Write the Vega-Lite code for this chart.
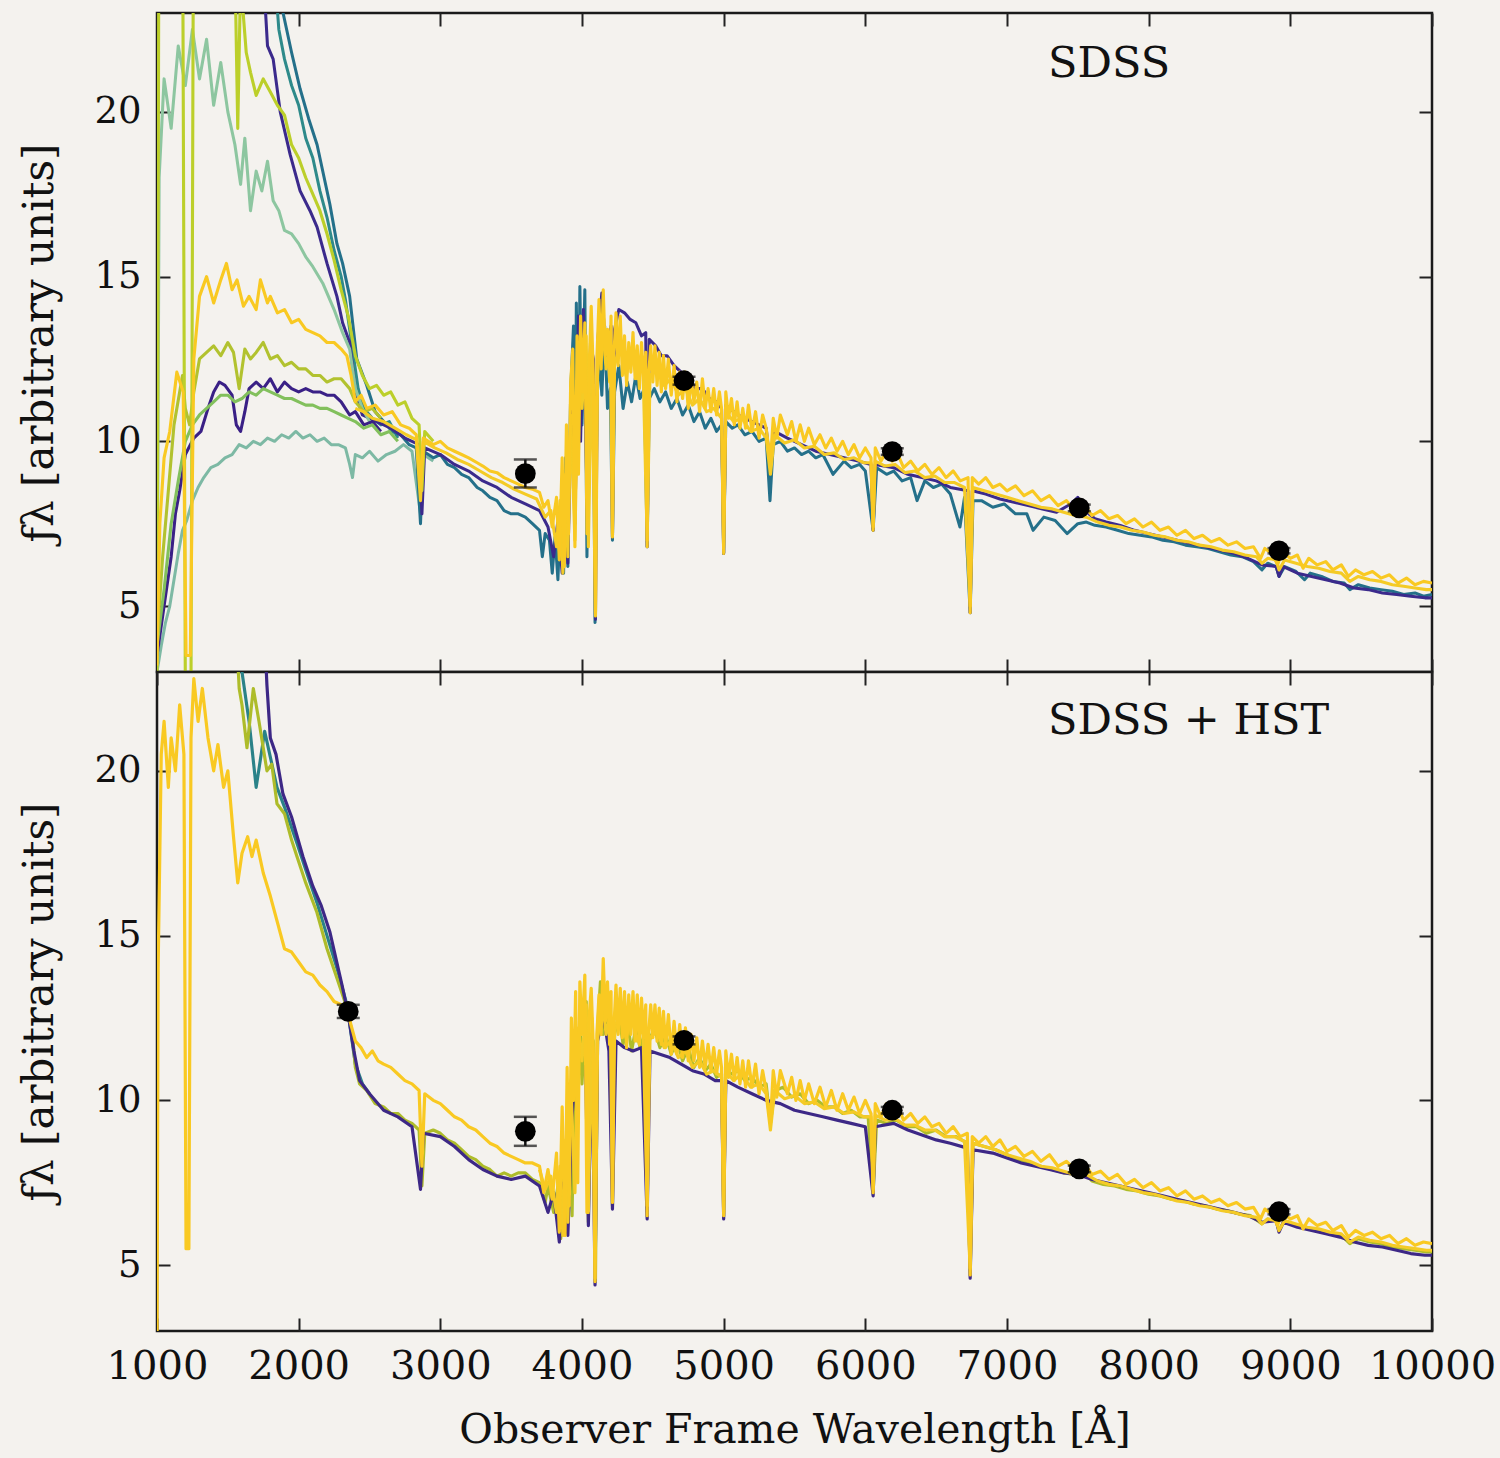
{
"$schema": "https://vega.github.io/schema/vega-lite/v6.json",
"background": "#f4f2ee",
"padding": {"left": 17, "top": 10, "right": 5, "bottom": 6},
"config": {
 "view": {"stroke": "#1a1a1a", "strokeWidth": 2.5, "fill": "#f4f2ee"},
 "font": "DejaVu Serif",
 "axis": {"labelFont": "DejaVu Serif", "titleFont": "DejaVu Serif", "labelColor": "#111", "titleColor": "#111", "tickColor": "#222", "tickWidth": 2, "tickSize": -13, "domain": false, "grid": false, "titleFontWeight": "normal", "labelFontWeight": "normal", "labelFlush": false, "labelOverlap": false}
},
"datasets": {
 "pt": [
  {"w":3600,"f":9.02,"lo":8.6,"hi":9.45},
  {"w":4720,"f":11.84,"lo":11.72,"hi":11.96},
  {"w":6190,"f":9.69,"lo":9.59,"hi":9.79},
  {"w":7510,"f":7.98,"lo":7.88,"hi":8.08},
  {"w":8920,"f":6.68,"lo":6.6,"hi":6.76}
 ],
 "pb": [
  {"w":2350,"f":12.7,"lo":12.5,"hi":12.9},
  {"w":3600,"f":9.06,"lo":8.62,"hi":9.5},
  {"w":4720,"f":11.82,"lo":11.7,"hi":11.94},
  {"w":6190,"f":9.7,"lo":9.6,"hi":9.8},
  {"w":7510,"f":7.92,"lo":7.82,"hi":8.02},
  {"w":8920,"f":6.62,"lo":6.54,"hi":6.7}
 ],
 "lt": [{"w":7290,"f":21.45,"t":"SDSS"}],
 "lb": [{"w":7290,"f":21.5,"t":"SDSS + HST"}],
 "st": [
  {"s":"a","w":1000,"f":3.0},{"s":"a","w":1030,"f":3.8},{"s":"a","w":1060,"f":4.5},{"s":"a","w":1090,"f":5.0},{"s":"a","w":1120,"f":5.8},{"s":"a","w":1150,"f":6.6},{"s":"a","w":1180,"f":7.3},{"s":"a","w":1210,"f":7.6},{"s":"a","w":1250,"f":8.2},{"s":"a","w":1290,"f":8.6},{"s":"a","w":1330,"f":8.9},{"s":"a","w":1380,"f":9.2},{"s":"a","w":1430,"f":9.3},{"s":"a","w":1480,"f":9.5},{"s":"a","w":1530,"f":9.6},{"s":"a","w":1580,"f":9.9},{"s":"a","w":1630,"f":9.8},{"s":"a","w":1680,"f":10.0},{"s":"a","w":1730,"f":9.9},{"s":"a","w":1780,"f":10.1},{"s":"a","w":1830,"f":10.0},{"s":"a","w":1880,"f":10.2},{"s":"a","w":1930,"f":10.1},{"s":"a","w":1980,"f":10.3},{"s":"a","w":2030,"f":10.1},{"s":"a","w":2080,"f":10.2},{"s":"a","w":2130,"f":10.0},{"s":"a","w":2180,"f":10.1},{"s":"a","w":2230,"f":9.9},{"s":"a","w":2280,"f":9.9},{"s":"a","w":2330,"f":9.8},{"s":"a","w":2360,"f":9.3},{"s":"a","w":2380,"f":8.9},{"s":"a","w":2400,"f":9.6},{"s":"a","w":2450,"f":9.5},{"s":"a","w":2500,"f":9.7},{"s":"a","w":2560,"f":9.4},{"s":"a","w":2620,"f":9.6},{"s":"a","w":2680,"f":9.7},{"s":"a","w":2740,"f":9.9},{"s":"a","w":2800,"f":9.7},{"s":"a","w":2860,"f":7.8},{"s":"a","w":2880,"f":9.6},{"s":"a","w":2950,"f":9.4},
  {"s":"b","w":1800,"f":26},{"s":"b","w":1860,"f":22.5},{"s":"b","w":1900,"f":21.6},{"s":"b","w":1950,"f":20.8},{"s":"b","w":2000,"f":20.2},{"s":"b","w":2050,"f":19.2},{"s":"b","w":2100,"f":18.6},{"s":"b","w":2150,"f":17.6},{"s":"b","w":2200,"f":16.8},{"s":"b","w":2250,"f":15.8},{"s":"b","w":2300,"f":15.0},{"s":"b","w":2330,"f":14.3},{"s":"b","w":2380,"f":12.8},{"s":"b","w":2420,"f":11.6},{"s":"b","w":2460,"f":11.0},{"s":"b","w":2520,"f":10.7},{"s":"b","w":2580,"f":10.5},{"s":"b","w":2640,"f":10.6},{"s":"b","w":2700,"f":10.1},
  {"s":"c","w":1850,"f":26},{"s":"c","w":1890,"f":23.0},{"s":"c","w":1950,"f":21.8},{"s":"c","w":2010,"f":20.7},{"s":"c","w":2070,"f":19.8},{"s":"c","w":2130,"f":19.0},{"s":"c","w":2180,"f":18.0},{"s":"c","w":2220,"f":17.2},{"s":"c","w":2270,"f":16.0},{"s":"c","w":2310,"f":15.4},{"s":"c","w":2360,"f":14.4},{"s":"c","w":2410,"f":12.5},{"s":"c","w":2480,"f":11.7},{"s":"c","w":2540,"f":10.9},{"s":"c","w":2600,"f":10.6},{"s":"c","w":2660,"f":10.3},{"s":"c","w":2720,"f":10.2},{"s":"c","w":2780,"f":9.9},{"s":"c","w":2830,"f":9.8},{"s":"c","w":2860,"f":7.5},{"s":"c","w":2880,"f":9.7},{"s":"c","w":2950,"f":9.5},{"s":"c","w":3000,"f":9.6},{"s":"c","w":3050,"f":9.3},{"s":"c","w":3100,"f":9.2},{"s":"c","w":3150,"f":9.0},{"s":"c","w":3200,"f":8.9},{"s":"c","w":3260,"f":8.6},{"s":"c","w":3300,"f":8.5},{"s":"c","w":3350,"f":8.3},{"s":"c","w":3400,"f":8.2},{"s":"c","w":3450,"f":7.9},{"s":"c","w":3500,"f":7.8},{"s":"c","w":3550,"f":7.8},{"s":"c","w":3600,"f":7.7},{"s":"c","w":3650,"f":7.5},{"s":"c","w":3700,"f":7.3},{"s":"c","w":3720,"f":6.5},{"s":"c","w":3740,"f":7.2},{"s":"c","w":3770,"f":7.0},{"s":"c","w":3790,"f":6.0},{"s":"c","w":3810,"f":7.1},{"s":"c","w":3830,"f":5.8},{"s":"c","w":3850,"f":8.0},{"s":"c","w":3870,"f":6.0},{"s":"c","w":3885,"f":9.5},{"s":"c","w":3900,"f":6.2},{"s":"c","w":3920,"f":11.5},{"s":"c","w":3940,"f":13.5},{"s":"c","w":3950,"f":8.0},{"s":"c","w":3960,"f":14.2},{"s":"c","w":3975,"f":9.5},{"s":"c","w":3985,"f":14.7},{"s":"c","w":4000,"f":10.5},{"s":"c","w":4020,"f":14.6},{"s":"c","w":4035,"f":6.5},{"s":"c","w":4050,"f":12.0},{"s":"c","w":4065,"f":11.0},{"s":"c","w":4080,"f":11.5},{"s":"c","w":4092,"f":4.5},{"s":"c","w":4105,"f":11.0},{"s":"c","w":4120,"f":12.8},{"s":"c","w":4140,"f":11.4},{"s":"c","w":4160,"f":13.5},{"s":"c","w":4180,"f":11.0},{"s":"c","w":4200,"f":11.6},{"s":"c","w":4215,"f":7.0},{"s":"c","w":4230,"f":11.5},{"s":"c","w":4260,"f":12.3},{"s":"c","w":4290,"f":11.0},{"s":"c","w":4320,"f":11.8},{"s":"c","w":4350,"f":11.2},{"s":"c","w":4380,"f":12.0},{"s":"c","w":4410,"f":11.3},{"s":"c","w":4440,"f":11.6},{"s":"c","w":4460,"f":6.8},{"s":"c","w":4475,"f":11.3},{"s":"c","w":4510,"f":11.6},{"s":"c","w":4550,"f":11.2},{"s":"c","w":4590,"f":11.5},{"s":"c","w":4630,"f":11.0},{"s":"c","w":4670,"f":11.3},{"s":"c","w":4710,"f":10.8},{"s":"c","w":4750,"f":11.1},{"s":"c","w":4790,"f":10.6},{"s":"c","w":4830,"f":10.9},{"s":"c","w":4870,"f":10.4},{"s":"c","w":4910,"f":10.7},{"s":"c","w":4950,"f":10.3},{"s":"c","w":4985,"f":10.5},{"s":"c","w":5000,"f":6.6},{"s":"c","w":5015,"f":10.6},{"s":"c","w":5060,"f":10.4},{"s":"c","w":5100,"f":10.5},{"s":"c","w":5150,"f":10.2},{"s":"c","w":5200,"f":10.3},{"s":"c","w":5250,"f":10.0},{"s":"c","w":5300,"f":10.1},{"s":"c","w":5327,"f":8.2},{"s":"c","w":5350,"f":9.9},{"s":"c","w":5400,"f":10.0},{"s":"c","w":5450,"f":9.7},{"s":"c","w":5500,"f":9.8},{"s":"c","w":5550,"f":9.6},{"s":"c","w":5600,"f":9.7},{"s":"c","w":5650,"f":9.5},{"s":"c","w":5700,"f":9.6},{"s":"c","w":5772,"f":9.0},{"s":"c","w":5850,"f":9.4},{"s":"c","w":5900,"f":9.2},{"s":"c","w":5960,"f":9.3},{"s":"c","w":6000,"f":9.1},{"s":"c","w":6055,"f":7.3},{"s":"c","w":6080,"f":9.2},{"s":"c","w":6150,"f":9.0},{"s":"c","w":6200,"f":9.1},{"s":"c","w":6260,"f":8.8},{"s":"c","w":6320,"f":8.9},{"s":"c","w":6365,"f":8.2},{"s":"c","w":6420,"f":8.8},{"s":"c","w":6480,"f":8.6},{"s":"c","w":6540,"f":8.7},{"s":"c","w":6600,"f":8.4},{"s":"c","w":6668,"f":7.4},{"s":"c","w":6700,"f":8.3},{"s":"c","w":6740,"f":4.8},{"s":"c","w":6760,"f":8.2},{"s":"c","w":6820,"f":8.2},{"s":"c","w":6900,"f":8.0},{"s":"c","w":6980,"f":8.1},{"s":"c","w":7060,"f":7.8},{"s":"c","w":7140,"f":7.8},{"s":"c","w":7184,"f":7.3},{"s":"c","w":7260,"f":7.7},{"s":"c","w":7340,"f":7.6},{"s":"c","w":7424,"f":7.2},{"s":"c","w":7500,"f":7.5},{"s":"c","w":7560,"f":7.55},{"s":"c","w":7620,"f":7.45},{"s":"c","w":7700,"f":7.4},{"s":"c","w":7780,"f":7.3},{"s":"c","w":7860,"f":7.2},{"s":"c","w":7940,"f":7.15},{"s":"c","w":8020,"f":7.1},{"s":"c","w":8100,"f":7.0},{"s":"c","w":8180,"f":6.95},{"s":"c","w":8260,"f":6.85},{"s":"c","w":8340,"f":6.8},{"s":"c","w":8420,"f":6.75},{"s":"c","w":8500,"f":6.65},{"s":"c","w":8580,"f":6.55},{"s":"c","w":8660,"f":6.5},{"s":"c","w":8740,"f":6.35},{"s":"c","w":8800,"f":6.1},{"s":"c","w":8840,"f":6.3},{"s":"c","w":8900,"f":6.2},{"s":"c","w":8920,"f":5.9},{"s":"c","w":8960,"f":6.2},{"s":"c","w":9040,"f":6.05},{"s":"c","w":9100,"f":5.8},{"s":"c","w":9140,"f":6.0},{"s":"c","w":9220,"f":5.9},{"s":"c","w":9300,"f":5.75},{"s":"c","w":9380,"f":5.7},{"s":"c","w":9420,"f":5.5},{"s":"c","w":9480,"f":5.65},{"s":"c","w":9560,"f":5.55},{"s":"c","w":9640,"f":5.5},{"s":"c","w":9720,"f":5.45},{"s":"c","w":9800,"f":5.35},{"s":"c","w":9880,"f":5.4},{"s":"c","w":9940,"f":5.3},{"s":"c","w":10000,"f":5.35},
  {"s":"d","w":1700,"f":26},{"s":"d","w":1760,"f":23.5},{"s":"d","w":1780,"f":22.0},{"s":"d","w":1820,"f":21.6},{"s":"d","w":1870,"f":20.0},{"s":"d","w":1940,"f":18.7},{"s":"d","w":2010,"f":17.6},{"s":"d","w":2080,"f":17.0},{"s":"d","w":2130,"f":16.5},{"s":"d","w":2200,"f":15.4},{"s":"d","w":2270,"f":14.4},{"s":"d","w":2310,"f":13.6},{"s":"d","w":2360,"f":13.0},{"s":"d","w":2400,"f":11.5},{"s":"d","w":2450,"f":10.8},{"s":"d","w":2550,"f":10.6},{"s":"d","w":2650,"f":10.4},{"s":"d","w":2750,"f":10.1},{"s":"d","w":2850,"f":9.9},{"s":"d","w":2870,"f":7.8},{"s":"d","w":2890,"f":9.8},{"s":"d","w":3000,"f":9.6},{"s":"d","w":3100,"f":9.3},{"s":"d","w":3200,"f":9.1},{"s":"d","w":3300,"f":8.8},{"s":"d","w":3400,"f":8.6},{"s":"d","w":3500,"f":8.3},{"s":"d","w":3600,"f":8.1},{"s":"d","w":3700,"f":7.9},{"s":"d","w":3760,"f":7.4},{"s":"d","w":3800,"f":6.5},{"s":"d","w":3830,"f":7.6},{"s":"d","w":3860,"f":6.0},{"s":"d","w":3880,"f":8.5},{"s":"d","w":3900,"f":6.3},{"s":"d","w":3930,"f":12.0},{"s":"d","w":3950,"f":7.5},{"s":"d","w":3975,"f":13.8},{"s":"d","w":3990,"f":10.0},{"s":"d","w":4010,"f":14.0},{"s":"d","w":4040,"f":7.2},{"s":"d","w":4060,"f":13.0},{"s":"d","w":4080,"f":12.5},{"s":"d","w":4095,"f":4.6},{"s":"d","w":4110,"f":13.0},{"s":"d","w":4140,"f":14.5},{"s":"d","w":4170,"f":12.6},{"s":"d","w":4205,"f":13.5},{"s":"d","w":4215,"f":7.1},{"s":"d","w":4230,"f":13.4},{"s":"d","w":4260,"f":14.0},{"s":"d","w":4300,"f":13.9},{"s":"d","w":4340,"f":13.7},{"s":"d","w":4380,"f":13.6},{"s":"d","w":4420,"f":13.2},{"s":"d","w":4450,"f":13.3},{"s":"d","w":4460,"f":6.8},{"s":"d","w":4475,"f":13.1},{"s":"d","w":4520,"f":12.9},{"s":"d","w":4560,"f":12.6},{"s":"d","w":4600,"f":12.6},{"s":"d","w":4650,"f":12.3},{"s":"d","w":4700,"f":12.1},{"s":"d","w":4750,"f":12.0},{"s":"d","w":4800,"f":11.6},{"s":"d","w":4850,"f":11.6},{"s":"d","w":4900,"f":11.3},{"s":"d","w":4950,"f":11.2},{"s":"d","w":4985,"f":11.0},{"s":"d","w":5000,"f":6.6},{"s":"d","w":5015,"f":11.1},{"s":"d","w":5100,"f":10.8},{"s":"d","w":5200,"f":10.6},{"s":"d","w":5300,"f":10.4},{"s":"d","w":5330,"f":9.2},{"s":"d","w":5360,"f":10.3},{"s":"d","w":5450,"f":10.1},{"s":"d","w":5550,"f":9.9},{"s":"d","w":5650,"f":9.7},{"s":"d","w":5750,"f":9.6},{"s":"d","w":5850,"f":9.5},{"s":"d","w":5950,"f":9.4},{"s":"d","w":6040,"f":9.3},{"s":"d","w":6055,"f":7.3},{"s":"d","w":6070,"f":9.3},{"s":"d","w":6200,"f":9.2},{"s":"d","w":6300,"f":9.0},{"s":"d","w":6400,"f":8.9},{"s":"d","w":6500,"f":8.8},{"s":"d","w":6600,"f":8.6},{"s":"d","w":6725,"f":8.5},{"s":"d","w":6740,"f":4.8},{"s":"d","w":6755,"f":8.5},{"s":"d","w":6850,"f":8.4},{"s":"d","w":6950,"f":8.25},{"s":"d","w":7050,"f":8.15},{"s":"d","w":7150,"f":8.05},{"s":"d","w":7250,"f":7.95},{"s":"d","w":7350,"f":7.85},{"s":"d","w":7450,"f":8.1},{"s":"d","w":7500,"f":8.3},{"s":"d","w":7550,"f":7.9},{"s":"d","w":7620,"f":7.65},{"s":"d","w":7700,"f":7.55},{"s":"d","w":7800,"f":7.45},{"s":"d","w":7900,"f":7.3},{"s":"d","w":8000,"f":7.2},{"s":"d","w":8100,"f":7.1},{"s":"d","w":8200,"f":7.0},{"s":"d","w":8300,"f":6.9},{"s":"d","w":8400,"f":6.8},{"s":"d","w":8500,"f":6.7},{"s":"d","w":8600,"f":6.6},{"s":"d","w":8700,"f":6.45},{"s":"d","w":8800,"f":6.25},{"s":"d","w":8900,"f":6.2},{"s":"d","w":8920,"f":5.9},{"s":"d","w":8950,"f":6.2},{"s":"d","w":9050,"f":6.0},{"s":"d","w":9150,"f":5.9},{"s":"d","w":9250,"f":5.8},{"s":"d","w":9350,"f":5.7},{"s":"d","w":9450,"f":5.55},{"s":"d","w":9550,"f":5.5},{"s":"d","w":9650,"f":5.4},{"s":"d","w":9750,"f":5.35},{"s":"d","w":9850,"f":5.3},{"s":"d","w":9950,"f":5.25},{"s":"d","w":10000,"f":5.25},
  {"s":"e","w":1000,"f":3.0},{"s":"e","w":1015,"f":18.0},{"s":"e","w":1050,"f":21.0},{"s":"e","w":1100,"f":19.5},{"s":"e","w":1150,"f":22.0},{"s":"e","w":1200,"f":20.8},{"s":"e","w":1250,"f":22.5},{"s":"e","w":1300,"f":21.0},{"s":"e","w":1350,"f":22.2},{"s":"e","w":1400,"f":20.2},{"s":"e","w":1450,"f":21.5},{"s":"e","w":1500,"f":20.0},{"s":"e","w":1550,"f":19.0},{"s":"e","w":1590,"f":17.8},{"s":"e","w":1620,"f":19.2},{"s":"e","w":1660,"f":17.0},{"s":"e","w":1700,"f":18.2},{"s":"e","w":1740,"f":17.6},{"s":"e","w":1780,"f":18.5},{"s":"e","w":1820,"f":17.3},{"s":"e","w":1860,"f":17.0},{"s":"e","w":1900,"f":16.4},{"s":"e","w":1950,"f":16.3},{"s":"e","w":2000,"f":16.0},{"s":"e","w":2050,"f":15.6},{"s":"e","w":2100,"f":15.3},{"s":"e","w":2170,"f":14.8},{"s":"e","w":2250,"f":14.0},{"s":"e","w":2310,"f":13.3},{"s":"e","w":2360,"f":12.8},{"s":"e","w":2400,"f":11.6},{"s":"e","w":2450,"f":11.0},{"s":"e","w":2500,"f":10.6},{"s":"e","w":2560,"f":10.4},
  {"s":"f","w":1000,"f":3.5},{"s":"f","w":1050,"f":5.0},{"s":"f","w":1100,"f":6.5},{"s":"f","w":1130,"f":7.8},{"s":"f","w":1160,"f":8.5},{"s":"f","w":1200,"f":9.6},{"s":"f","w":1260,"f":10.1},{"s":"f","w":1310,"f":10.3},{"s":"f","w":1360,"f":11.0},{"s":"f","w":1400,"f":11.5},{"s":"f","w":1440,"f":11.8},{"s":"f","w":1480,"f":11.7},{"s":"f","w":1530,"f":11.4},{"s":"f","w":1560,"f":10.5},{"s":"f","w":1590,"f":10.3},{"s":"f","w":1620,"f":10.9},{"s":"f","w":1650,"f":11.6},{"s":"f","w":1700,"f":11.8},{"s":"f","w":1750,"f":11.6},{"s":"f","w":1800,"f":11.9},{"s":"f","w":1850,"f":11.5},{"s":"f","w":1900,"f":11.8},{"s":"f","w":1950,"f":11.6},{"s":"f","w":2000,"f":11.5},{"s":"f","w":2050,"f":11.6},{"s":"f","w":2100,"f":11.5},{"s":"f","w":2150,"f":11.5},{"s":"f","w":2200,"f":11.4},{"s":"f","w":2250,"f":11.4},{"s":"f","w":2300,"f":11.2},{"s":"f","w":2360,"f":10.8},{"s":"f","w":2400,"f":10.9},{"s":"f","w":2460,"f":10.5},{"s":"f","w":2520,"f":10.6},{"s":"f","w":2580,"f":10.3},
  {"s":"g","w":1000,"f":3.8},{"s":"g","w":1050,"f":5.5},{"s":"g","w":1100,"f":7.5},{"s":"g","w":1150,"f":8.8},{"s":"g","w":1200,"f":10.0},{"s":"g","w":1250,"f":10.5},{"s":"g","w":1300,"f":10.8},{"s":"g","w":1350,"f":11.0},{"s":"g","w":1400,"f":11.2},{"s":"g","w":1450,"f":11.4},{"s":"g","w":1500,"f":11.4},{"s":"g","w":1550,"f":11.2},{"s":"g","w":1600,"f":11.3},{"s":"g","w":1650,"f":11.5},{"s":"g","w":1700,"f":11.4},{"s":"g","w":1750,"f":11.6},{"s":"g","w":1800,"f":11.5},{"s":"g","w":1850,"f":11.4},{"s":"g","w":1900,"f":11.3},{"s":"g","w":1950,"f":11.3},{"s":"g","w":2000,"f":11.2},{"s":"g","w":2050,"f":11.1},{"s":"g","w":2100,"f":11.1},{"s":"g","w":2150,"f":11.0},{"s":"g","w":2200,"f":11.0},{"s":"g","w":2250,"f":10.9},{"s":"g","w":2300,"f":10.8},{"s":"g","w":2350,"f":10.7},{"s":"g","w":2400,"f":10.6},{"s":"g","w":2460,"f":10.4},{"s":"g","w":2520,"f":10.5},{"s":"g","w":2580,"f":10.2},{"s":"g","w":2640,"f":10.3},{"s":"g","w":2700,"f":10.0},
  {"s":"h","w":1000,"f":4.0},{"s":"h","w":1040,"f":6.5},{"s":"h","w":1080,"f":8.5},{"s":"h","w":1120,"f":10.5},{"s":"h","w":1160,"f":11.5},{"s":"h","w":1180,"f":12.0},{"s":"h","w":1200,"f":11.0},{"s":"h","w":1230,"f":10.5},{"s":"h","w":1260,"f":11.5},{"s":"h","w":1300,"f":12.5},{"s":"h","w":1350,"f":12.7},{"s":"h","w":1400,"f":12.9},{"s":"h","w":1450,"f":12.6},{"s":"h","w":1500,"f":13.0},{"s":"h","w":1540,"f":12.7},{"s":"h","w":1580,"f":11.6},{"s":"h","w":1620,"f":12.8},{"s":"h","w":1660,"f":12.5},{"s":"h","w":1700,"f":12.7},{"s":"h","w":1750,"f":13.0},{"s":"h","w":1800,"f":12.5},{"s":"h","w":1850,"f":12.6},{"s":"h","w":1900,"f":12.3},{"s":"h","w":1950,"f":12.4},{"s":"h","w":2000,"f":12.2},{"s":"h","w":2050,"f":12.2},{"s":"h","w":2100,"f":12.0},{"s":"h","w":2150,"f":12.0},{"s":"h","w":2200,"f":11.8},{"s":"h","w":2250,"f":11.9},{"s":"h","w":2300,"f":11.9},{"s":"h","w":2360,"f":11.6},{"s":"h","w":2400,"f":11.2},{"s":"h","w":2460,"f":10.9},{"s":"h","w":2520,"f":11.0},{"s":"h","w":2580,"f":10.7},
  {"s":"i","w":1000,"f":2.5},{"s":"i","w":1014,"f":27},{"s":"i","w":1180,"f":27},{"s":"i","w":1200,"f":2.5},{"s":"i","w":1240,"f":2.5},{"s":"i","w":1258,"f":27},{"s":"i","w":1540,"f":27},{"s":"i","w":1570,"f":19.5},{"s":"i","w":1590,"f":24},{"s":"i","w":1630,"f":21.8},{"s":"i","w":1660,"f":21.2},{"s":"i","w":1700,"f":20.5},{"s":"i","w":1750,"f":21.0},{"s":"i","w":1800,"f":20.6},{"s":"i","w":1850,"f":20.2},{"s":"i","w":1900,"f":19.9},{"s":"i","w":1950,"f":19.0},{"s":"i","w":2000,"f":18.6},{"s":"i","w":2050,"f":18.0},{"s":"i","w":2100,"f":17.5},{"s":"i","w":2150,"f":17.0},{"s":"i","w":2200,"f":16.3},{"s":"i","w":2250,"f":15.5},{"s":"i","w":2300,"f":14.6},{"s":"i","w":2350,"f":13.8},{"s":"i","w":2400,"f":12.6},{"s":"i","w":2450,"f":12.0},{"s":"i","w":2500,"f":11.6},{"s":"i","w":2550,"f":11.7},{"s":"i","w":2600,"f":11.4},{"s":"i","w":2650,"f":11.5},{"s":"i","w":2700,"f":11.1},{"s":"i","w":2750,"f":11.2},{"s":"i","w":2800,"f":10.7},{"s":"i","w":2850,"f":10.5},{"s":"i","w":2870,"f":8.5},{"s":"i","w":2890,"f":10.3},{"s":"i","w":2950,"f":10.0},
  {"s":"iz","w":2400,"f":11.0},{"s":"iz","w":2460,"f":10.9},{"s":"iz","w":2520,"f":10.7},{"s":"iz","w":2600,"f":10.6},{"s":"iz","w":2680,"f":10.4},{"s":"iz","w":2760,"f":10.2},{"s":"iz","w":2830,"f":10.05},{"s":"iz","w":2860,"f":8.2},{"s":"iz","w":2880,"f":10.0},{"s":"iz","w":2960,"f":9.8},{"s":"iz","w":3040,"f":9.65},{"s":"iz","w":3120,"f":9.45},{"s":"iz","w":3200,"f":9.3},{"s":"iz","w":3280,"f":9.1},{"s":"iz","w":3360,"f":8.9},{"s":"iz","w":3440,"f":8.75},{"s":"iz","w":3520,"f":8.55},{"s":"iz","w":3600,"f":8.4},{"s":"iz","w":3680,"f":8.25},{"s":"iz","w":3740,"f":7.7},{"s":"iz","w":3780,"f":7.9},{"s":"iz","w":3820,"f":6.8},{"s":"iz","w":3845,"f":8.2},{"s":"iz","w":3865,"f":6.0},{"s":"iz","w":3885,"f":9.0},{"s":"iz","w":3900,"f":6.5},{"s":"iz","w":3920,"f":10.8},{"s":"iz","w":3950,"f":7.0},{"s":"iz","w":3975,"f":12.6},{"s":"iz","w":4000,"f":11.0},{"s":"iz","w":4030,"f":13.2},{"s":"iz","w":4045,"f":6.8},{"s":"iz","w":4070,"f":12.8},{"s":"iz","w":4095,"f":4.8},{"s":"iz","w":4110,"f":12.0},{"s":"iz","w":4140,"f":13.8},{"s":"iz","w":4170,"f":12.2},{"s":"iz","w":4200,"f":12.9},{"s":"iz","w":4215,"f":7.2},{"s":"iz","w":4230,"f":12.3},{"s":"iz","w":4270,"f":13.0},{"s":"iz","w":4310,"f":12.0},{"s":"iz","w":4350,"f":12.6},{"s":"iz","w":4390,"f":11.9},{"s":"iz","w":4430,"f":12.4},{"s":"iz","w":4460,"f":7.0},{"s":"iz","w":4480,"f":12.0},{"s":"iz","w":4530,"f":12.2},{"s":"iz","w":4580,"f":11.7},{"s":"iz","w":4630,"f":11.9},{"s":"iz","w":4680,"f":11.4},{"s":"iz","w":4730,"f":11.6},{"s":"iz","w":4780,"f":11.1},{"s":"iz","w":4830,"f":11.3},{"s":"iz","w":4880,"f":10.9},{"s":"iz","w":4930,"f":11.0},{"s":"iz","w":4985,"f":10.7},{"s":"iz","w":5000,"f":6.8},{"s":"iz","w":5015,"f":10.9},{"s":"iz","w":5070,"f":10.6},{"s":"iz","w":5130,"f":10.7},{"s":"iz","w":5190,"f":10.3},{"s":"iz","w":5250,"f":10.4},{"s":"iz","w":5300,"f":10.1},{"s":"iz","w":5330,"f":9.0},{"s":"iz","w":5360,"f":10.2},{"s":"iz","w":5430,"f":9.95},{"s":"iz","w":5500,"f":10.05},{"s":"iz","w":5570,"f":9.8},{"s":"iz","w":5640,"f":9.85},{"s":"iz","w":5710,"f":9.6},{"s":"iz","w":5780,"f":9.65},{"s":"iz","w":5850,"f":9.45},{"s":"iz","w":5920,"f":9.5},{"s":"iz","w":5990,"f":9.35},{"s":"iz","w":6040,"f":9.35},{"s":"iz","w":6055,"f":7.4},{"s":"iz","w":6070,"f":9.4},{"s":"iz","w":6140,"f":9.25},{"s":"iz","w":6210,"f":9.3},{"s":"iz","w":6280,"f":9.05},{"s":"iz","w":6350,"f":9.1},{"s":"iz","w":6420,"f":8.9},{"s":"iz","w":6490,"f":8.95},{"s":"iz","w":6560,"f":8.75},{"s":"iz","w":6630,"f":8.75},{"s":"iz","w":6700,"f":8.6},{"s":"iz","w":6740,"f":5.0},{"s":"iz","w":6760,"f":8.6},{"s":"iz","w":6840,"f":8.5},{"s":"iz","w":6920,"f":8.4},{"s":"iz","w":7000,"f":8.3},{"s":"iz","w":7080,"f":8.2},{"s":"iz","w":7160,"f":8.1},{"s":"iz","w":7240,"f":8.0},{"s":"iz","w":7320,"f":7.95},{"s":"iz","w":7400,"f":7.85},{"s":"iz","w":7480,"f":7.75},{"s":"iz","w":7560,"f":7.7},{"s":"iz","w":7640,"f":7.55},{"s":"iz","w":7720,"f":7.45},{"s":"iz","w":7800,"f":7.4},{"s":"iz","w":7880,"f":7.3},{"s":"iz","w":7960,"f":7.25},{"s":"iz","w":8040,"f":7.15},{"s":"iz","w":8120,"f":7.1},{"s":"iz","w":8200,"f":7.0},{"s":"iz","w":8280,"f":6.95},{"s":"iz","w":8360,"f":6.85},{"s":"iz","w":8440,"f":6.8},{"s":"iz","w":8520,"f":6.7},{"s":"iz","w":8600,"f":6.65},{"s":"iz","w":8680,"f":6.55},{"s":"iz","w":8760,"f":6.5},{"s":"iz","w":8800,"f":6.3},{"s":"iz","w":8840,"f":6.45},{"s":"iz","w":8900,"f":6.4},{"s":"iz","w":8920,"f":6.1},{"s":"iz","w":8960,"f":6.4},{"s":"iz","w":9040,"f":6.3},{"s":"iz","w":9120,"f":6.2},{"s":"iz","w":9200,"f":6.15},{"s":"iz","w":9280,"f":6.05},{"s":"iz","w":9360,"f":6.0},{"s":"iz","w":9420,"f":5.75},{"s":"iz","w":9480,"f":5.9},{"s":"iz","w":9560,"f":5.8},{"s":"iz","w":9640,"f":5.75},{"s":"iz","w":9720,"f":5.65},{"s":"iz","w":9800,"f":5.6},{"s":"iz","w":9880,"f":5.55},{"s":"iz","w":9960,"f":5.5},{"s":"iz","w":10000,"f":5.5},
  {"s":"j","w":1000,"f":3.2},{"s":"j","w":1020,"f":7.5},{"s":"j","w":1050,"f":9.5},{"s":"j","w":1090,"f":10.3},{"s":"j","w":1140,"f":12.1},{"s":"j","w":1185,"f":11.5},{"s":"j","w":1205,"f":3.5},{"s":"j","w":1235,"f":3.5},{"s":"j","w":1260,"f":12.5},{"s":"j","w":1300,"f":14.4},{"s":"j","w":1350,"f":15.0},{"s":"j","w":1400,"f":14.2},{"s":"j","w":1450,"f":14.9},{"s":"j","w":1490,"f":15.4},{"s":"j","w":1530,"f":14.6},{"s":"j","w":1565,"f":14.9},{"s":"j","w":1610,"f":14.1},{"s":"j","w":1650,"f":14.4},{"s":"j","w":1700,"f":14.0},{"s":"j","w":1730,"f":14.9},{"s":"j","w":1780,"f":14.2},{"s":"j","w":1800,"f":14.4},{"s":"j","w":1850,"f":13.9},{"s":"j","w":1900,"f":14.0},{"s":"j","w":1950,"f":13.6},{"s":"j","w":2000,"f":13.7},{"s":"j","w":2050,"f":13.4},{"s":"j","w":2100,"f":13.3},{"s":"j","w":2150,"f":13.2},{"s":"j","w":2200,"f":13.0},{"s":"j","w":2250,"f":13.0},{"s":"j","w":2300,"f":12.8},{"s":"j","w":2340,"f":12.6},{"s":"j","w":2370,"f":12.0},{"s":"j","w":2400,"f":11.2},{"s":"j","w":2440,"f":11.4},{"s":"j","w":2480,"f":11.0},{"s":"j","w":2540,"f":11.1},{"s":"j","w":2600,"f":10.8},{"s":"j","w":2660,"f":10.9},{"s":"j","w":2720,"f":10.5},{"s":"j","w":2780,"f":10.4},{"s":"j","w":2830,"f":10.2},{"s":"j","w":2860,"f":8.8},{"s":"j","w":2880,"f":10.1},{"s":"j","w":2950,"f":9.9},{"s":"j","w":3000,"f":10.0},{"s":"j","w":3050,"f":9.8},{"s":"j","w":3100,"f":9.7},{"s":"j","w":3150,"f":9.6},{"s":"j","w":3200,"f":9.5},{"s":"j","w":3260,"f":9.35},{"s":"j","w":3300,"f":9.25},{"s":"j","w":3350,"f":9.1},{"s":"j","w":3400,"f":9.05},{"s":"j","w":3450,"f":8.9},{"s":"j","w":3500,"f":8.8},{"s":"j","w":3550,"f":8.7},{"s":"j","w":3600,"f":8.6},{"s":"j","w":3650,"f":8.55},{"s":"j","w":3700,"f":8.45},{"s":"j","w":3730,"f":8.0},{"s":"j","w":3760,"f":8.2},{"s":"j","w":3790,"f":7.4},{"s":"j","w":3820,"f":8.3},{"s":"j","w":3840,"f":6.4},{"s":"j","w":3860,"f":9.5},{"s":"j","w":3875,"f":6.2},{"s":"j","w":3890,"f":10.5},{"s":"j","w":3905,"f":7.2},{"s":"j","w":3920,"f":11.8},{"s":"j","w":3935,"f":12.8},{"s":"j","w":3950,"f":6.8},{"s":"j","w":3965,"f":13.2},{"s":"j","w":3975,"f":9.0},{"s":"j","w":3990,"f":13.8},{"s":"j","w":4005,"f":11.5},{"s":"j","w":4020,"f":13.6},{"s":"j","w":4035,"f":7.2},{"s":"j","w":4050,"f":12.2},{"s":"j","w":4065,"f":14.1},{"s":"j","w":4080,"f":12.0},{"s":"j","w":4095,"f":4.7},{"s":"j","w":4105,"f":12.5},{"s":"j","w":4120,"f":14.3},{"s":"j","w":4135,"f":12.2},{"s":"j","w":4150,"f":14.6},{"s":"j","w":4165,"f":12.6},{"s":"j","w":4180,"f":13.4},{"s":"j","w":4195,"f":11.8},{"s":"j","w":4205,"f":13.8},{"s":"j","w":4215,"f":7.1},{"s":"j","w":4225,"f":12.6},{"s":"j","w":4240,"f":13.9},{"s":"j","w":4255,"f":12.3},{"s":"j","w":4270,"f":13.8},{"s":"j","w":4285,"f":12.0},{"s":"j","w":4300,"f":13.2},{"s":"j","w":4315,"f":11.7},{"s":"j","w":4330,"f":13.0},{"s":"j","w":4345,"f":12.1},{"s":"j","w":4360,"f":13.3},{"s":"j","w":4375,"f":11.9},{"s":"j","w":4390,"f":12.9},{"s":"j","w":4405,"f":11.6},{"s":"j","w":4420,"f":13.0},{"s":"j","w":4435,"f":11.9},{"s":"j","w":4450,"f":12.7},{"s":"j","w":4460,"f":6.8},{"s":"j","w":4470,"f":12.0},{"s":"j","w":4485,"f":12.9},{"s":"j","w":4500,"f":11.8},{"s":"j","w":4515,"f":12.9},{"s":"j","w":4530,"f":11.7},{"s":"j","w":4545,"f":12.7},{"s":"j","w":4560,"f":11.5},{"s":"j","w":4575,"f":12.6},{"s":"j","w":4590,"f":11.6},{"s":"j","w":4610,"f":12.5},{"s":"j","w":4630,"f":11.4},{"s":"j","w":4650,"f":12.3},{"s":"j","w":4670,"f":11.2},{"s":"j","w":4690,"f":12.1},{"s":"j","w":4710,"f":11.3},{"s":"j","w":4730,"f":12.1},{"s":"j","w":4750,"f":11.0},{"s":"j","w":4770,"f":11.9},{"s":"j","w":4790,"f":11.2},{"s":"j","w":4810,"f":11.8},{"s":"j","w":4830,"f":10.9},{"s":"j","w":4850,"f":11.9},{"s":"j","w":4870,"f":11.0},{"s":"j","w":4890,"f":11.6},{"s":"j","w":4910,"f":10.9},{"s":"j","w":4930,"f":11.6},{"s":"j","w":4950,"f":10.8},{"s":"j","w":4970,"f":11.5},{"s":"j","w":4985,"f":11.0},{"s":"j","w":5000,"f":6.6},{"s":"j","w":5015,"f":11.5},{"s":"j","w":5035,"f":10.7},{"s":"j","w":5055,"f":11.3},{"s":"j","w":5075,"f":10.5},{"s":"j","w":5095,"f":11.2},{"s":"j","w":5115,"f":10.4},{"s":"j","w":5135,"f":11.0},{"s":"j","w":5155,"f":10.4},{"s":"j","w":5175,"f":11.1},{"s":"j","w":5200,"f":10.3},{"s":"j","w":5225,"f":10.9},{"s":"j","w":5250,"f":10.1},{"s":"j","w":5275,"f":10.8},{"s":"j","w":5300,"f":10.4},{"s":"j","w":5330,"f":9.4},{"s":"j","w":5350,"f":10.7},{"s":"j","w":5375,"f":10.1},{"s":"j","w":5400,"f":10.8},{"s":"j","w":5450,"f":10.2},{"s":"j","w":5480,"f":10.6},{"s":"j","w":5510,"f":10.0},{"s":"j","w":5540,"f":10.5},{"s":"j","w":5570,"f":10.0},{"s":"j","w":5600,"f":10.4},{"s":"j","w":5640,"f":9.9},{"s":"j","w":5680,"f":10.2},{"s":"j","w":5720,"f":9.8},{"s":"j","w":5760,"f":10.1},{"s":"j","w":5800,"f":9.7},{"s":"j","w":5840,"f":10.0},{"s":"j","w":5880,"f":9.6},{"s":"j","w":5920,"f":9.9},{"s":"j","w":5960,"f":9.5},{"s":"j","w":6000,"f":9.8},{"s":"j","w":6040,"f":9.5},{"s":"j","w":6055,"f":7.3},{"s":"j","w":6070,"f":9.8},{"s":"j","w":6110,"f":9.4},{"s":"j","w":6150,"f":9.7},{"s":"j","w":6190,"f":9.4},{"s":"j","w":6230,"f":9.6},{"s":"j","w":6270,"f":9.2},{"s":"j","w":6320,"f":9.4},{"s":"j","w":6370,"f":9.1},{"s":"j","w":6420,"f":9.3},{"s":"j","w":6470,"f":9.0},{"s":"j","w":6520,"f":9.2},{"s":"j","w":6570,"f":8.9},{"s":"j","w":6620,"f":9.1},{"s":"j","w":6670,"f":8.8},{"s":"j","w":6725,"f":8.9},{"s":"j","w":6740,"f":4.8},{"s":"j","w":6755,"f":8.9},{"s":"j","w":6800,"f":8.7},{"s":"j","w":6850,"f":8.9},{"s":"j","w":6900,"f":8.6},{"s":"j","w":6950,"f":8.7},{"s":"j","w":7000,"f":8.5},{"s":"j","w":7060,"f":8.65},{"s":"j","w":7120,"f":8.35},{"s":"j","w":7180,"f":8.5},{"s":"j","w":7240,"f":8.2},{"s":"j","w":7300,"f":8.35},{"s":"j","w":7360,"f":8.05},{"s":"j","w":7420,"f":8.2},{"s":"j","w":7480,"f":7.9},{"s":"j","w":7540,"f":8.1},{"s":"j","w":7600,"f":7.75},{"s":"j","w":7660,"f":7.9},{"s":"j","w":7720,"f":7.65},{"s":"j","w":7780,"f":7.75},{"s":"j","w":7840,"f":7.5},{"s":"j","w":7900,"f":7.65},{"s":"j","w":7960,"f":7.4},{"s":"j","w":8020,"f":7.55},{"s":"j","w":8080,"f":7.3},{"s":"j","w":8140,"f":7.4},{"s":"j","w":8200,"f":7.15},{"s":"j","w":8260,"f":7.3},{"s":"j","w":8320,"f":7.05},{"s":"j","w":8380,"f":7.15},{"s":"j","w":8440,"f":6.95},{"s":"j","w":8500,"f":7.05},{"s":"j","w":8560,"f":6.85},{"s":"j","w":8620,"f":6.95},{"s":"j","w":8680,"f":6.75},{"s":"j","w":8740,"f":6.8},{"s":"j","w":8790,"f":6.45},{"s":"j","w":8820,"f":6.75},{"s":"j","w":8870,"f":6.6},{"s":"j","w":8910,"f":6.25},{"s":"j","w":8940,"f":6.65},{"s":"j","w":9000,"f":6.45},{"s":"j","w":9050,"f":6.55},{"s":"j","w":9090,"f":6.15},{"s":"j","w":9130,"f":6.45},{"s":"j","w":9190,"f":6.25},{"s":"j","w":9250,"f":6.35},{"s":"j","w":9300,"f":6.1},{"s":"j","w":9360,"f":6.25},{"s":"j","w":9410,"f":5.9},{"s":"j","w":9460,"f":6.1},{"s":"j","w":9520,"f":5.95},{"s":"j","w":9580,"f":6.05},{"s":"j","w":9640,"f":5.85},{"s":"j","w":9700,"f":5.95},{"s":"j","w":9760,"f":5.7},{"s":"j","w":9820,"f":5.85},{"s":"j","w":9880,"f":5.65},{"s":"j","w":9940,"f":5.75},{"s":"j","w":10000,"f":5.7}
 ],
 "sb": [
  {"s":"k","w":1560,"f":26},{"s":"k","w":1600,"f":23.0},{"s":"k","w":1650,"f":21.5},{"s":"k","w":1700,"f":19.5},{"s":"k","w":1760,"f":21.2},{"s":"k","w":1847,"f":19.5},{"s":"k","w":1900,"f":18.9},{"s":"k","w":1988,"f":17.8},{"s":"k","w":2050,"f":17.0},{"s":"k","w":2129,"f":16.0},{"s":"k","w":2200,"f":15.0},{"s":"k","w":2271,"f":14.0},{"s":"k","w":2341,"f":12.9},{"s":"k","w":2400,"f":11.1},{"s":"k","w":2450,"f":10.5},{"s":"k","w":2500,"f":10.2},
  {"s":"l","w":1540,"f":26},{"s":"l","w":1580,"f":22.5},{"s":"l","w":1600,"f":22.0},{"s":"l","w":1635,"f":20.7},{"s":"l","w":1680,"f":22.5},{"s":"l","w":1720,"f":21.5},{"s":"l","w":1776,"f":20.0},{"s":"l","w":1810,"f":20.2},{"s":"l","w":1847,"f":19.0},{"s":"l","w":1900,"f":18.7},{"s":"l","w":1950,"f":17.9},{"s":"l","w":1988,"f":17.4},{"s":"l","w":2050,"f":16.6},{"s":"l","w":2129,"f":15.7},{"s":"l","w":2200,"f":14.6},{"s":"l","w":2271,"f":13.7},{"s":"l","w":2341,"f":12.8},{"s":"l","w":2380,"f":12.0},{"s":"l","w":2400,"f":11.0},{"s":"l","w":2430,"f":10.5},{"s":"l","w":2480,"f":10.3},{"s":"l","w":2540,"f":9.9},{"s":"l","w":2600,"f":9.8},{"s":"l","w":2650,"f":9.6},{"s":"l","w":2700,"f":9.6},{"s":"l","w":2750,"f":9.4},{"s":"l","w":2800,"f":9.3},{"s":"l","w":2850,"f":9.1},{"s":"l","w":2870,"f":7.4},{"s":"l","w":2890,"f":9.0},{"s":"l","w":2950,"f":9.1},{"s":"l","w":3000,"f":9.0},{"s":"l","w":3050,"f":8.8},{"s":"l","w":3100,"f":8.7},{"s":"l","w":3150,"f":8.5},{"s":"l","w":3200,"f":8.3},{"s":"l","w":3250,"f":8.2},{"s":"l","w":3300,"f":8.0},{"s":"l","w":3350,"f":7.9},{"s":"l","w":3400,"f":7.7},{"s":"l","w":3450,"f":7.8},{"s":"l","w":3500,"f":7.7},{"s":"l","w":3550,"f":7.8},{"s":"l","w":3600,"f":7.8},{"s":"l","w":3650,"f":7.6},{"s":"l","w":3700,"f":7.5},{"s":"l","w":3740,"f":6.9},{"s":"l","w":3760,"f":7.4},{"s":"l","w":3800,"f":6.6},{"s":"l","w":3830,"f":7.4},{"s":"l","w":3850,"f":5.8},{"s":"l","w":3870,"f":8.5},{"s":"l","w":3890,"f":6.0},{"s":"l","w":3910,"f":10.5},{"s":"l","w":3930,"f":6.5},{"s":"l","w":3950,"f":12.0},{"s":"l","w":3965,"f":8.5},{"s":"l","w":3985,"f":12.8},{"s":"l","w":4000,"f":10.5},{"s":"l","w":4030,"f":13.0},{"s":"l","w":4045,"f":6.3},{"s":"l","w":4060,"f":12.0},{"s":"l","w":4080,"f":11.8},{"s":"l","w":4095,"f":4.5},{"s":"l","w":4110,"f":12.2},{"s":"l","w":4130,"f":13.6},{"s":"l","w":4150,"f":12.0},{"s":"l","w":4170,"f":13.0},{"s":"l","w":4190,"f":11.6},{"s":"l","w":4205,"f":12.4},{"s":"l","w":4215,"f":6.8},{"s":"l","w":4230,"f":12.0},{"s":"l","w":4260,"f":12.6},{"s":"l","w":4290,"f":11.7},{"s":"l","w":4320,"f":12.4},{"s":"l","w":4350,"f":11.5},{"s":"l","w":4380,"f":12.2},{"s":"l","w":4410,"f":11.6},{"s":"l","w":4440,"f":12.0},{"s":"l","w":4460,"f":6.5},{"s":"l","w":4475,"f":11.8},{"s":"l","w":4510,"f":12.2},{"s":"l","w":4550,"f":11.6},{"s":"l","w":4590,"f":12.0},{"s":"l","w":4630,"f":11.4},{"s":"l","w":4670,"f":11.8},{"s":"l","w":4710,"f":11.2},{"s":"l","w":4750,"f":11.6},{"s":"l","w":4790,"f":11.0},{"s":"l","w":4830,"f":11.3},{"s":"l","w":4870,"f":10.9},{"s":"l","w":4910,"f":11.1},{"s":"l","w":4950,"f":10.7},{"s":"l","w":4985,"f":10.8},{"s":"l","w":5000,"f":6.5},{"s":"l","w":5015,"f":10.9},{"s":"l","w":5060,"f":10.8},{"s":"l","w":5100,"f":10.9},{"s":"l","w":5150,"f":10.6},{"s":"l","w":5200,"f":10.7},{"s":"l","w":5250,"f":10.4},{"s":"l","w":5300,"f":10.5},{"s":"l","w":5330,"f":9.3},{"s":"l","w":5360,"f":10.3},{"s":"l","w":5420,"f":10.4},{"s":"l","w":5480,"f":10.1},{"s":"l","w":5540,"f":10.2},{"s":"l","w":5600,"f":9.9},{"s":"l","w":5660,"f":10.0},{"s":"l","w":5720,"f":9.8},{"s":"l","w":5780,"f":9.8},{"s":"l","w":5840,"f":9.6},{"s":"l","w":5900,"f":9.7},{"s":"l","w":5960,"f":9.5},{"s":"l","w":6020,"f":9.5},{"s":"l","w":6055,"f":7.2},{"s":"l","w":6080,"f":9.4},{"s":"l","w":6150,"f":9.3},{"s":"l","w":6220,"f":9.4},{"s":"l","w":6290,"f":9.2},{"s":"l","w":6360,"f":9.2},{"s":"l","w":6430,"f":9.0},{"s":"l","w":6500,"f":9.1},{"s":"l","w":6570,"f":8.9},{"s":"l","w":6640,"f":8.9},{"s":"l","w":6720,"f":8.7},{"s":"l","w":6740,"f":4.7},{"s":"l","w":6760,"f":8.7},{"s":"l","w":6840,"f":8.6},{"s":"l","w":6920,"f":8.5},{"s":"l","w":7000,"f":8.35},{"s":"l","w":7080,"f":8.2},{"s":"l","w":7160,"f":8.1},{"s":"l","w":7240,"f":8.0},{"s":"l","w":7320,"f":7.9},{"s":"l","w":7400,"f":7.8},{"s":"l","w":7480,"f":7.75},{"s":"l","w":7540,"f":7.85},{"s":"l","w":7600,"f":7.55},{"s":"l","w":7680,"f":7.45},{"s":"l","w":7760,"f":7.4},{"s":"l","w":7840,"f":7.3},{"s":"l","w":7920,"f":7.25},{"s":"l","w":8000,"f":7.15},{"s":"l","w":8080,"f":7.1},{"s":"l","w":8160,"f":7.0},{"s":"l","w":8240,"f":6.95},{"s":"l","w":8320,"f":6.85},{"s":"l","w":8400,"f":6.8},{"s":"l","w":8480,"f":6.7},{"s":"l","w":8560,"f":6.65},{"s":"l","w":8640,"f":6.55},{"s":"l","w":8720,"f":6.5},{"s":"l","w":8800,"f":6.25},{"s":"l","w":8840,"f":6.4},{"s":"l","w":8900,"f":6.35},{"s":"l","w":8920,"f":6.05},{"s":"l","w":8960,"f":6.35},{"s":"l","w":9040,"f":6.2},{"s":"l","w":9120,"f":6.1},{"s":"l","w":9200,"f":6.05},{"s":"l","w":9280,"f":5.95},{"s":"l","w":9360,"f":5.9},{"s":"l","w":9420,"f":5.65},{"s":"l","w":9480,"f":5.8},{"s":"l","w":9560,"f":5.7},{"s":"l","w":9640,"f":5.65},{"s":"l","w":9720,"f":5.55},{"s":"l","w":9800,"f":5.5},{"s":"l","w":9880,"f":5.45},{"s":"l","w":9960,"f":5.4},{"s":"l","w":10000,"f":5.4},
  {"s":"m","w":1740,"f":26},{"s":"m","w":1776,"f":22.6},{"s":"m","w":1800,"f":21.0},{"s":"m","w":1840,"f":20.5},{"s":"m","w":1889,"f":19.3},{"s":"m","w":1950,"f":18.6},{"s":"m","w":2030,"f":17.4},{"s":"m","w":2100,"f":16.5},{"s":"m","w":2160,"f":15.9},{"s":"m","w":2221,"f":15.1},{"s":"m","w":2306,"f":13.5},{"s":"m","w":2350,"f":12.6},{"s":"m","w":2390,"f":11.5},{"s":"m","w":2430,"f":10.6},{"s":"m","w":2500,"f":10.2},{"s":"m","w":2600,"f":9.7},{"s":"m","w":2700,"f":9.5},{"s":"m","w":2800,"f":9.2},{"s":"m","w":2860,"f":7.3},{"s":"m","w":2880,"f":9.0},{"s":"m","w":3000,"f":8.9},{"s":"m","w":3100,"f":8.6},{"s":"m","w":3200,"f":8.2},{"s":"m","w":3300,"f":7.9},{"s":"m","w":3400,"f":7.7},{"s":"m","w":3500,"f":7.6},{"s":"m","w":3600,"f":7.7},{"s":"m","w":3700,"f":7.4},{"s":"m","w":3760,"f":6.6},{"s":"m","w":3800,"f":7.2},{"s":"m","w":3840,"f":5.7},{"s":"m","w":3870,"f":7.5},{"s":"m","w":3900,"f":5.9},{"s":"m","w":3930,"f":9.5},{"s":"m","w":3960,"f":11.5},{"s":"m","w":3990,"f":12.2},{"s":"m","w":4020,"f":12.5},{"s":"m","w":4045,"f":6.2},{"s":"m","w":4070,"f":11.8},{"s":"m","w":4092,"f":4.4},{"s":"m","w":4110,"f":11.8},{"s":"m","w":4150,"f":12.6},{"s":"m","w":4190,"f":11.5},{"s":"m","w":4215,"f":6.7},{"s":"m","w":4240,"f":11.8},{"s":"m","w":4300,"f":11.6},{"s":"m","w":4360,"f":11.5},{"s":"m","w":4420,"f":11.6},{"s":"m","w":4460,"f":6.4},{"s":"m","w":4480,"f":11.5},{"s":"m","w":4550,"f":11.4},{"s":"m","w":4620,"f":11.3},{"s":"m","w":4700,"f":11.1},{"s":"m","w":4780,"f":10.9},{"s":"m","w":4860,"f":10.8},{"s":"m","w":4940,"f":10.6},{"s":"m","w":4985,"f":10.6},{"s":"m","w":5000,"f":6.4},{"s":"m","w":5015,"f":10.6},{"s":"m","w":5100,"f":10.4},{"s":"m","w":5200,"f":10.2},{"s":"m","w":5300,"f":10.0},{"s":"m","w":5400,"f":9.9},{"s":"m","w":5500,"f":9.7},{"s":"m","w":5600,"f":9.6},{"s":"m","w":5700,"f":9.5},{"s":"m","w":5800,"f":9.4},{"s":"m","w":5900,"f":9.3},{"s":"m","w":6000,"f":9.2},{"s":"m","w":6055,"f":7.1},{"s":"m","w":6070,"f":9.2},{"s":"m","w":6200,"f":9.3},{"s":"m","w":6300,"f":9.1},{"s":"m","w":6400,"f":8.95},{"s":"m","w":6500,"f":8.8},{"s":"m","w":6600,"f":8.7},{"s":"m","w":6720,"f":8.55},{"s":"m","w":6740,"f":4.6},{"s":"m","w":6760,"f":8.5},{"s":"m","w":6900,"f":8.4},{"s":"m","w":7000,"f":8.25},{"s":"m","w":7100,"f":8.1},{"s":"m","w":7200,"f":8.0},{"s":"m","w":7300,"f":7.9},{"s":"m","w":7400,"f":7.8},{"s":"m","w":7500,"f":7.75},{"s":"m","w":7600,"f":7.6},{"s":"m","w":7700,"f":7.5},{"s":"m","w":7800,"f":7.4},{"s":"m","w":7900,"f":7.3},{"s":"m","w":8000,"f":7.2},{"s":"m","w":8100,"f":7.1},{"s":"m","w":8200,"f":7.0},{"s":"m","w":8300,"f":6.9},{"s":"m","w":8400,"f":6.8},{"s":"m","w":8500,"f":6.7},{"s":"m","w":8600,"f":6.6},{"s":"m","w":8700,"f":6.5},{"s":"m","w":8800,"f":6.3},{"s":"m","w":8900,"f":6.35},{"s":"m","w":8920,"f":6.0},{"s":"m","w":8950,"f":6.3},{"s":"m","w":9050,"f":6.15},{"s":"m","w":9150,"f":6.05},{"s":"m","w":9250,"f":5.95},{"s":"m","w":9350,"f":5.85},{"s":"m","w":9450,"f":5.7},{"s":"m","w":9550,"f":5.6},{"s":"m","w":9650,"f":5.55},{"s":"m","w":9750,"f":5.45},{"s":"m","w":9850,"f":5.35},{"s":"m","w":9950,"f":5.3},{"s":"m","w":10000,"f":5.3},
  {"s":"n","w":3700,"f":7.9},{"s":"n","w":3740,"f":7.3},{"s":"n","w":3780,"f":7.7},{"s":"n","w":3820,"f":6.6},{"s":"n","w":3845,"f":8.0},{"s":"n","w":3865,"f":5.9},{"s":"n","w":3885,"f":8.8},{"s":"n","w":3900,"f":6.3},{"s":"n","w":3920,"f":10.6},{"s":"n","w":3950,"f":7.2},{"s":"n","w":3975,"f":12.2},{"s":"n","w":4000,"f":11.2},{"s":"n","w":4030,"f":12.9},{"s":"n","w":4045,"f":6.6},{"s":"n","w":4070,"f":12.5},{"s":"n","w":4092,"f":4.6},{"s":"n","w":4110,"f":11.8},{"s":"n","w":4140,"f":13.2},{"s":"n","w":4170,"f":12.0},{"s":"n","w":4200,"f":12.6},{"s":"n","w":4215,"f":7.0},{"s":"n","w":4230,"f":12.1},{"s":"n","w":4270,"f":12.8},{"s":"n","w":4310,"f":11.9},{"s":"n","w":4350,"f":12.5},{"s":"n","w":4390,"f":11.8},{"s":"n","w":4430,"f":12.3},{"s":"n","w":4460,"f":6.8},{"s":"n","w":4480,"f":11.9},{"s":"n","w":4530,"f":12.1},{"s":"n","w":4580,"f":11.6},{"s":"n","w":4630,"f":11.8},{"s":"n","w":4680,"f":11.3},{"s":"n","w":4730,"f":11.5},{"s":"n","w":4780,"f":11.0},{"s":"n","w":4830,"f":11.2},{"s":"n","w":4880,"f":10.8},{"s":"n","w":4930,"f":10.9},{"s":"n","w":4985,"f":10.7},{"s":"n","w":5000,"f":6.6},{"s":"n","w":5015,"f":10.9},{"s":"n","w":5070,"f":10.6},{"s":"n","w":5130,"f":10.8},{"s":"n","w":5190,"f":10.4},{"s":"n","w":5250,"f":10.5},{"s":"n","w":5300,"f":10.2},{"s":"n","w":5330,"f":9.1},{"s":"n","w":5360,"f":10.3},{"s":"n","w":5430,"f":10.05},{"s":"n","w":5500,"f":10.15},{"s":"n","w":5570,"f":9.9},{"s":"n","w":5640,"f":9.95},{"s":"n","w":5710,"f":9.75},{"s":"n","w":5780,"f":9.8},{"s":"n","w":5850,"f":9.6},{"s":"n","w":5920,"f":9.65},{"s":"n","w":5990,"f":9.5},{"s":"n","w":6040,"f":9.5},{"s":"n","w":6055,"f":7.3},{"s":"n","w":6070,"f":9.55},{"s":"n","w":6140,"f":9.4},{"s":"n","w":6210,"f":9.45},{"s":"n","w":6280,"f":9.25},{"s":"n","w":6350,"f":9.25},{"s":"n","w":6420,"f":9.1},{"s":"n","w":6490,"f":9.1},{"s":"n","w":6560,"f":8.9},{"s":"n","w":6630,"f":8.9},{"s":"n","w":6700,"f":8.75},{"s":"n","w":6740,"f":4.9},{"s":"n","w":6760,"f":8.7},{"s":"n","w":6840,"f":8.6},{"s":"n","w":6920,"f":8.5},{"s":"n","w":7000,"f":8.35},{"s":"n","w":7080,"f":8.25},{"s":"n","w":7160,"f":8.15},{"s":"n","w":7240,"f":8.0},{"s":"n","w":7320,"f":7.95},{"s":"n","w":7400,"f":7.85},{"s":"n","w":7480,"f":7.75},{"s":"n","w":7560,"f":7.75},{"s":"n","w":7640,"f":7.55},{"s":"n","w":7720,"f":7.45},{"s":"n","w":7800,"f":7.4},{"s":"n","w":7880,"f":7.3},{"s":"n","w":7960,"f":7.2},{"s":"n","w":8040,"f":7.15},{"s":"n","w":8120,"f":7.05},{"s":"n","w":8200,"f":6.95},{"s":"n","w":8280,"f":6.9},{"s":"n","w":8360,"f":6.8},{"s":"n","w":8440,"f":6.75},{"s":"n","w":8520,"f":6.65},{"s":"n","w":8600,"f":6.6},{"s":"n","w":8680,"f":6.5},{"s":"n","w":8760,"f":6.45},{"s":"n","w":8800,"f":6.25},{"s":"n","w":8840,"f":6.4},{"s":"n","w":8900,"f":6.35},{"s":"n","w":8920,"f":6.05},{"s":"n","w":8960,"f":6.35},{"s":"n","w":9040,"f":6.25},{"s":"n","w":9120,"f":6.15},{"s":"n","w":9200,"f":6.1},{"s":"n","w":9280,"f":6.0},{"s":"n","w":9360,"f":5.95},{"s":"n","w":9420,"f":5.7},{"s":"n","w":9480,"f":5.85},{"s":"n","w":9560,"f":5.75},{"s":"n","w":9640,"f":5.7},{"s":"n","w":9720,"f":5.6},{"s":"n","w":9800,"f":5.55},{"s":"n","w":9880,"f":5.5},{"s":"n","w":9960,"f":5.45},{"s":"n","w":10000,"f":5.45},
  {"s":"o","w":1000,"f":2.5},{"s":"o","w":1008,"f":14.0},{"s":"o","w":1030,"f":20.5},{"s":"o","w":1050,"f":21.5},{"s":"o","w":1080,"f":19.5},{"s":"o","w":1100,"f":21.0},{"s":"o","w":1130,"f":20.0},{"s":"o","w":1160,"f":22.0},{"s":"o","w":1190,"f":20.5},{"s":"o","w":1205,"f":5.5},{"s":"o","w":1225,"f":5.5},{"s":"o","w":1240,"f":21.0},{"s":"o","w":1260,"f":22.8},{"s":"o","w":1290,"f":21.5},{"s":"o","w":1320,"f":22.5},{"s":"o","w":1360,"f":21.0},{"s":"o","w":1400,"f":20.0},{"s":"o","w":1430,"f":20.8},{"s":"o","w":1470,"f":19.5},{"s":"o","w":1500,"f":20.0},{"s":"o","w":1540,"f":18.0},{"s":"o","w":1570,"f":16.6},{"s":"o","w":1600,"f":17.5},{"s":"o","w":1640,"f":18.0},{"s":"o","w":1670,"f":17.4},{"s":"o","w":1700,"f":17.9},{"s":"o","w":1750,"f":16.9},{"s":"o","w":1800,"f":16.2},{"s":"o","w":1850,"f":15.4},{"s":"o","w":1900,"f":14.6},{"s":"o","w":1950,"f":14.5},{"s":"o","w":2000,"f":14.2},{"s":"o","w":2050,"f":13.9},{"s":"o","w":2100,"f":13.8},{"s":"o","w":2150,"f":13.5},{"s":"o","w":2200,"f":13.3},{"s":"o","w":2250,"f":13.0},{"s":"o","w":2300,"f":12.9},{"s":"o","w":2350,"f":12.6},{"s":"o","w":2400,"f":11.8},{"s":"o","w":2440,"f":11.6},{"s":"o","w":2480,"f":11.3},{"s":"o","w":2520,"f":11.5},{"s":"o","w":2560,"f":11.2},{"s":"o","w":2600,"f":11.1},{"s":"o","w":2650,"f":11.0},{"s":"o","w":2700,"f":10.8},{"s":"o","w":2750,"f":10.6},{"s":"o","w":2800,"f":10.5},{"s":"o","w":2850,"f":10.3},{"s":"o","w":2870,"f":8.0},{"s":"o","w":2890,"f":10.2},{"s":"o","w":2950,"f":10.0},{"s":"o","w":3000,"f":9.9},{"s":"o","w":3050,"f":9.7},{"s":"o","w":3100,"f":9.5},{"s":"o","w":3150,"f":9.4},{"s":"o","w":3200,"f":9.2},{"s":"o","w":3250,"f":9.1},{"s":"o","w":3300,"f":8.9},{"s":"o","w":3350,"f":8.7},{"s":"o","w":3400,"f":8.6},{"s":"o","w":3450,"f":8.4},{"s":"o","w":3500,"f":8.3},{"s":"o","w":3550,"f":8.2},{"s":"o","w":3600,"f":8.1},{"s":"o","w":3650,"f":8.1},{"s":"o","w":3700,"f":8.0},{"s":"o","w":3730,"f":7.2},{"s":"o","w":3760,"f":7.9},{"s":"o","w":3790,"f":7.0},{"s":"o","w":3820,"f":8.4},{"s":"o","w":3840,"f":6.0},{"s":"o","w":3860,"f":9.8},{"s":"o","w":3880,"f":5.9},{"s":"o","w":3895,"f":11.0},{"s":"o","w":3910,"f":6.8},{"s":"o","w":3925,"f":12.5},{"s":"o","w":3940,"f":10.0},{"s":"o","w":3955,"f":13.3},{"s":"o","w":3970,"f":7.5},{"s":"o","w":3985,"f":13.6},{"s":"o","w":4000,"f":12.0},{"s":"o","w":4020,"f":13.8},{"s":"o","w":4035,"f":6.6},{"s":"o","w":4050,"f":12.5},{"s":"o","w":4065,"f":13.4},{"s":"o","w":4080,"f":11.6},{"s":"o","w":4092,"f":4.5},{"s":"o","w":4105,"f":12.0},{"s":"o","w":4120,"f":13.2},{"s":"o","w":4135,"f":12.0},{"s":"o","w":4150,"f":14.3},{"s":"o","w":4165,"f":12.4},{"s":"o","w":4180,"f":13.6},{"s":"o","w":4195,"f":11.7},{"s":"o","w":4205,"f":13.3},{"s":"o","w":4215,"f":6.9},{"s":"o","w":4225,"f":12.2},{"s":"o","w":4240,"f":13.5},{"s":"o","w":4255,"f":12.0},{"s":"o","w":4270,"f":13.4},{"s":"o","w":4285,"f":11.9},{"s":"o","w":4300,"f":13.3},{"s":"o","w":4315,"f":11.6},{"s":"o","w":4330,"f":13.2},{"s":"o","w":4345,"f":12.0},{"s":"o","w":4360,"f":13.3},{"s":"o","w":4375,"f":11.8},{"s":"o","w":4390,"f":13.2},{"s":"o","w":4405,"f":11.7},{"s":"o","w":4420,"f":13.1},{"s":"o","w":4435,"f":11.9},{"s":"o","w":4450,"f":12.9},{"s":"o","w":4460,"f":6.5},{"s":"o","w":4470,"f":12.0},{"s":"o","w":4485,"f":12.9},{"s":"o","w":4500,"f":11.9},{"s":"o","w":4515,"f":12.9},{"s":"o","w":4530,"f":11.8},{"s":"o","w":4545,"f":12.8},{"s":"o","w":4560,"f":11.7},{"s":"o","w":4575,"f":12.7},{"s":"o","w":4590,"f":11.6},{"s":"o","w":4610,"f":12.6},{"s":"o","w":4630,"f":11.4},{"s":"o","w":4650,"f":12.4},{"s":"o","w":4670,"f":11.4},{"s":"o","w":4690,"f":12.3},{"s":"o","w":4710,"f":11.3},{"s":"o","w":4730,"f":12.2},{"s":"o","w":4750,"f":11.2},{"s":"o","w":4770,"f":12.0},{"s":"o","w":4790,"f":11.2},{"s":"o","w":4810,"f":11.9},{"s":"o","w":4830,"f":11.0},{"s":"o","w":4850,"f":11.8},{"s":"o","w":4870,"f":11.0},{"s":"o","w":4890,"f":11.7},{"s":"o","w":4910,"f":10.9},{"s":"o","w":4930,"f":11.6},{"s":"o","w":4950,"f":10.8},{"s":"o","w":4970,"f":11.5},{"s":"o","w":4985,"f":11.0},{"s":"o","w":5000,"f":6.5},{"s":"o","w":5015,"f":11.5},{"s":"o","w":5035,"f":10.7},{"s":"o","w":5055,"f":11.4},{"s":"o","w":5075,"f":10.6},{"s":"o","w":5095,"f":11.3},{"s":"o","w":5115,"f":10.5},{"s":"o","w":5135,"f":11.2},{"s":"o","w":5155,"f":10.4},{"s":"o","w":5175,"f":11.2},{"s":"o","w":5200,"f":10.4},{"s":"o","w":5225,"f":11.1},{"s":"o","w":5250,"f":10.2},{"s":"o","w":5275,"f":10.9},{"s":"o","w":5300,"f":10.3},{"s":"o","w":5330,"f":9.3},{"s":"o","w":5350,"f":10.9},{"s":"o","w":5375,"f":10.1},{"s":"o","w":5400,"f":10.9},{"s":"o","w":5450,"f":10.2},{"s":"o","w":5480,"f":10.7},{"s":"o","w":5510,"f":10.0},{"s":"o","w":5540,"f":10.6},{"s":"o","w":5570,"f":10.0},{"s":"o","w":5600,"f":10.5},{"s":"o","w":5640,"f":9.9},{"s":"o","w":5680,"f":10.4},{"s":"o","w":5720,"f":9.8},{"s":"o","w":5760,"f":10.3},{"s":"o","w":5800,"f":9.7},{"s":"o","w":5840,"f":10.2},{"s":"o","w":5880,"f":9.7},{"s":"o","w":5920,"f":10.1},{"s":"o","w":5960,"f":9.6},{"s":"o","w":6000,"f":10.0},{"s":"o","w":6040,"f":9.6},{"s":"o","w":6055,"f":7.2},{"s":"o","w":6070,"f":9.9},{"s":"o","w":6110,"f":9.5},{"s":"o","w":6150,"f":9.9},{"s":"o","w":6190,"f":9.5},{"s":"o","w":6230,"f":9.8},{"s":"o","w":6270,"f":9.4},{"s":"o","w":6320,"f":9.6},{"s":"o","w":6370,"f":9.3},{"s":"o","w":6420,"f":9.5},{"s":"o","w":6470,"f":9.2},{"s":"o","w":6520,"f":9.3},{"s":"o","w":6570,"f":9.0},{"s":"o","w":6620,"f":9.2},{"s":"o","w":6670,"f":8.9},{"s":"o","w":6720,"f":9.0},{"s":"o","w":6740,"f":4.7},{"s":"o","w":6755,"f":8.9},{"s":"o","w":6800,"f":8.7},{"s":"o","w":6850,"f":8.9},{"s":"o","w":6900,"f":8.6},{"s":"o","w":6950,"f":8.8},{"s":"o","w":7000,"f":8.45},{"s":"o","w":7060,"f":8.6},{"s":"o","w":7120,"f":8.3},{"s":"o","w":7180,"f":8.45},{"s":"o","w":7240,"f":8.15},{"s":"o","w":7300,"f":8.35},{"s":"o","w":7360,"f":8.0},{"s":"o","w":7420,"f":8.15},{"s":"o","w":7480,"f":7.9},{"s":"o","w":7540,"f":8.1},{"s":"o","w":7600,"f":7.75},{"s":"o","w":7660,"f":7.85},{"s":"o","w":7720,"f":7.6},{"s":"o","w":7780,"f":7.75},{"s":"o","w":7840,"f":7.45},{"s":"o","w":7900,"f":7.6},{"s":"o","w":7960,"f":7.35},{"s":"o","w":8020,"f":7.5},{"s":"o","w":8080,"f":7.25},{"s":"o","w":8140,"f":7.35},{"s":"o","w":8200,"f":7.1},{"s":"o","w":8260,"f":7.25},{"s":"o","w":8320,"f":7.0},{"s":"o","w":8380,"f":7.1},{"s":"o","w":8440,"f":6.9},{"s":"o","w":8500,"f":7.0},{"s":"o","w":8560,"f":6.8},{"s":"o","w":8620,"f":6.9},{"s":"o","w":8680,"f":6.7},{"s":"o","w":8740,"f":6.75},{"s":"o","w":8790,"f":6.4},{"s":"o","w":8820,"f":6.7},{"s":"o","w":8870,"f":6.55},{"s":"o","w":8910,"f":6.2},{"s":"o","w":8940,"f":6.6},{"s":"o","w":9000,"f":6.4},{"s":"o","w":9050,"f":6.5},{"s":"o","w":9090,"f":6.1},{"s":"o","w":9130,"f":6.4},{"s":"o","w":9190,"f":6.2},{"s":"o","w":9250,"f":6.3},{"s":"o","w":9300,"f":6.05},{"s":"o","w":9360,"f":6.2},{"s":"o","w":9410,"f":5.85},{"s":"o","w":9460,"f":6.05},{"s":"o","w":9520,"f":5.9},{"s":"o","w":9580,"f":6.0},{"s":"o","w":9640,"f":5.8},{"s":"o","w":9700,"f":5.9},{"s":"o","w":9760,"f":5.65},{"s":"o","w":9820,"f":5.8},{"s":"o","w":9880,"f":5.6},{"s":"o","w":9940,"f":5.7},{"s":"o","w":10000,"f":5.65}
 ]
},
"spacing": 0,
"bounds": "flush",
"vconcat": [
 {
  "width": 1275, "height": 659,
  "layer": [
   {"data": {"name": "st"}, "mark": {"type": "line", "clip": true, "strokeJoin": "round"},
    "encoding": {
     "x": {"field": "w", "type": "quantitative", "scale": {"domain": [1000, 10000], "nice": false, "zero": false}, "axis": {"orient": "bottom", "values": [1000,2000,3000,4000,5000,6000,7000,8000,9000,10000], "labels": false, "title": null}},
     "y": {"field": "f", "type": "quantitative", "scale": {"domain": [3, 23], "nice": false, "zero": false}, "axis": {"orient": "left", "values": [5,10,15,20], "title": "ƒλ [arbitrary units]", "labelFontSize": 37, "titleFontSize": 42, "labelPadding": 29, "titlePadding": 32}},
     "color": {"field": "s", "type": "nominal", "legend": null, "scale": {"domain": ["a","b","c","d","e","f","g","h","i","iz","j","k","l","m","n","o"], "range": ["#7db9a4","#2e8a8a","#24708a","#3b2a8c","#8dc6a0","#3a2086","#82c05c","#b2c22f","#bccf2a","#f4cb26","#f9c922","#2a8288","#aebc2a","#3d2886","#f4cb26","#f9c922"]}},
     "strokeWidth": {"field": "s", "type": "nominal", "legend": null, "scale": {"domain": ["a","b","c","d","e","f","g","h","i","iz","j","k","l","m","n","o"], "range": [3,3.2,4,3.6,3,3,3,3.2,3.2,4.4,4.6,3.2,4,3.6,4.4,4.6]}}
    }},
   {"data": {"name": "pt"}, "mark": {"type": "rule", "strokeWidth": 2.5, "color": "#111"},
    "encoding": {"x": {"field": "w", "type": "quantitative", "axis": null}, "y": {"field": "lo", "type": "quantitative", "axis": null}, "y2": {"field": "hi"}}},
   {"data": {"name": "pt"}, "mark": {"type": "tick", "orient": "horizontal", "size": 23, "thickness": 2.5, "color": "#111"},
    "encoding": {"x": {"field": "w", "type": "quantitative", "axis": null}, "y": {"field": "lo", "type": "quantitative", "axis": null}}},
   {"data": {"name": "pt"}, "mark": {"type": "tick", "orient": "horizontal", "size": 23, "thickness": 2.5, "color": "#111"},
    "encoding": {"x": {"field": "w", "type": "quantitative", "axis": null}, "y": {"field": "hi", "type": "quantitative", "axis": null}}},
   {"data": {"name": "pt"}, "mark": {"type": "circle", "size": 430, "color": "#000", "opacity": 1},
    "encoding": {"x": {"field": "w", "type": "quantitative", "axis": null}, "y": {"field": "f", "type": "quantitative", "axis": null}}},
   {"data": {"name": "lt"}, "mark": {"type": "text", "align": "left", "baseline": "middle", "fontSize": 43, "font": "DejaVu Serif", "color": "#111"},
    "encoding": {
     "x": {"field": "w", "type": "quantitative", "axis": {"orient": "top", "values": [1000,2000,3000,4000,5000,6000,7000,8000,9000,10000], "labels": false, "title": null}},
     "y": {"field": "f", "type": "quantitative", "axis": {"orient": "right", "values": [5,10,15,20], "labels": false, "title": null}},
     "text": {"field": "t"}
    }}
  ],
  "resolve": {"axis": {"x": "independent", "y": "independent"}}
 },
 {
  "width": 1275, "height": 659,
  "layer": [
   {"data": {"name": "sb"}, "mark": {"type": "line", "clip": true, "strokeJoin": "round"},
    "encoding": {
     "x": {"field": "w", "type": "quantitative", "scale": {"domain": [1000, 10000], "nice": false, "zero": false}, "axis": {"orient": "bottom", "values": [1000,2000,3000,4000,5000,6000,7000,8000,9000,10000], "format": "d", "labelFontSize": 40, "labelPadding": 28, "title": "Observer Frame Wavelength [Å]", "titleFontSize": 41, "titlePadding": 24}},
     "y": {"field": "f", "type": "quantitative", "scale": {"domain": [3, 23], "nice": false, "zero": false}, "axis": {"orient": "left", "values": [5,10,15,20], "title": "ƒλ [arbitrary units]", "labelFontSize": 37, "titleFontSize": 42, "labelPadding": 29, "titlePadding": 32}},
     "color": {"field": "s", "type": "nominal", "legend": null, "scale": {"domain": ["a","b","c","d","e","f","g","h","i","iz","j","k","l","m","n","o"], "range": ["#7db9a4","#2e8a8a","#24708a","#3b2a8c","#8dc6a0","#3a2086","#82c05c","#b2c22f","#bccf2a","#f4cb26","#f9c922","#2a8288","#aebc2a","#3d2886","#f4cb26","#f9c922"]}},
     "strokeWidth": {"field": "s", "type": "nominal", "legend": null, "scale": {"domain": ["a","b","c","d","e","f","g","h","i","iz","j","k","l","m","n","o"], "range": [3,3.2,4,3.6,3,3,3,3.2,3.2,4.4,4.6,3.2,4,3.6,4.4,4.6]}}
    }},
   {"data": {"name": "pb"}, "mark": {"type": "rule", "strokeWidth": 2.5, "color": "#111"},
    "encoding": {"x": {"field": "w", "type": "quantitative", "axis": null}, "y": {"field": "lo", "type": "quantitative", "axis": null}, "y2": {"field": "hi"}}},
   {"data": {"name": "pb"}, "mark": {"type": "tick", "orient": "horizontal", "size": 23, "thickness": 2.5, "color": "#111"},
    "encoding": {"x": {"field": "w", "type": "quantitative", "axis": null}, "y": {"field": "lo", "type": "quantitative", "axis": null}}},
   {"data": {"name": "pb"}, "mark": {"type": "tick", "orient": "horizontal", "size": 23, "thickness": 2.5, "color": "#111"},
    "encoding": {"x": {"field": "w", "type": "quantitative", "axis": null}, "y": {"field": "hi", "type": "quantitative", "axis": null}}},
   {"data": {"name": "pb"}, "mark": {"type": "circle", "size": 430, "color": "#000", "opacity": 1},
    "encoding": {"x": {"field": "w", "type": "quantitative", "axis": null}, "y": {"field": "f", "type": "quantitative", "axis": null}}},
   {"data": {"name": "lb"}, "mark": {"type": "text", "align": "left", "baseline": "middle", "fontSize": 43, "font": "DejaVu Serif", "color": "#111"},
    "encoding": {
     "x": {"field": "w", "type": "quantitative", "axis": {"orient": "top", "values": [1000,2000,3000,4000,5000,6000,7000,8000,9000,10000], "labels": false, "title": null}},
     "y": {"field": "f", "type": "quantitative", "axis": {"orient": "right", "values": [5,10,15,20], "labels": false, "title": null}},
     "text": {"field": "t"}
    }}
  ],
  "resolve": {"axis": {"x": "independent", "y": "independent"}}
 }
]
}
